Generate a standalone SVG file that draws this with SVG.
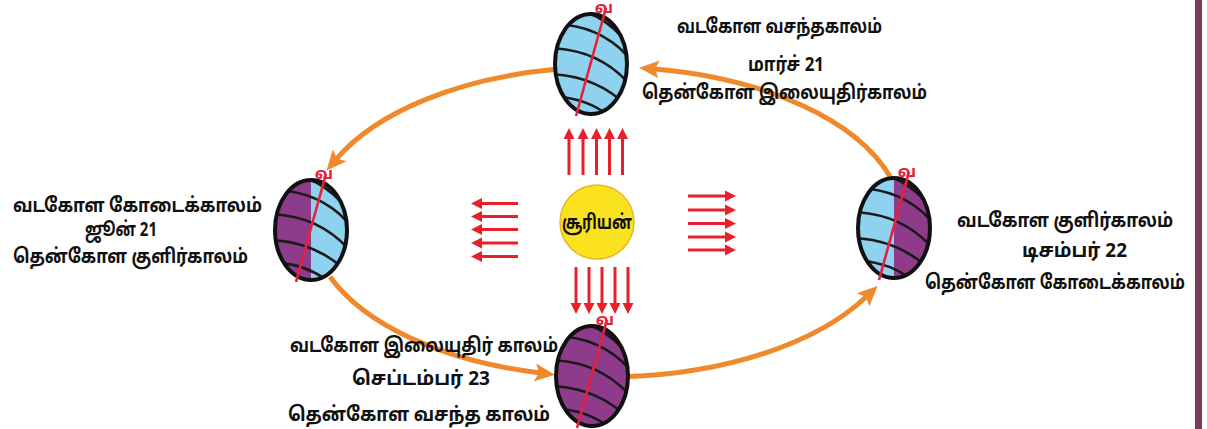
<svg xmlns="http://www.w3.org/2000/svg" xmlns:xlink="http://www.w3.org/1999/xlink" width="1207" height="429" viewBox="0 0 1207 429">
  <style>
    .label { font-family: "Noto Sans Tamil", "Lohit Tamil", "Noto Sans", "DejaVu Sans", sans-serif; font-weight: bold; font-size: 20px; fill: #111; text-anchor: middle; }
    .north { font-family: "Noto Sans Tamil", "Lohit Tamil", "Noto Sans", sans-serif; font-weight: bold; font-size: 16px; fill: #e8203a; text-anchor: middle; }
    .orbit { fill: none; stroke: #f0892b; stroke-width: 5; marker-end: url(#orangeHead); }
    .ray { stroke: #e8202a; stroke-width: 3; marker-end: url(#redHead); }
    .shell { fill: none; stroke: #111; stroke-width: 4; }
    .stripe { fill: none; stroke: #1a1a1a; stroke-width: 2.6; }
    .axis { stroke: #e8203a; stroke-width: 2.6; }
    .blue { fill: #8fd2f0; }
    .purple { fill: #8e3b8c; }
  </style>
  <defs>
    <marker id="orangeHead" markerUnits="userSpaceOnUse" markerWidth="24" markerHeight="22" viewBox="0 -11 24 22" refX="4" refY="0" orient="auto">
      <path d="M0,-9 L20,0 L0,9 L4,0 z" fill="#f0892b"/>
    </marker>
    <marker id="redHead" markerUnits="userSpaceOnUse" markerWidth="14" markerHeight="14" viewBox="0 -7 14 14" refX="1" refY="0" orient="auto">
      <path d="M0,-5.5 L11,0 L0,5.5 z" fill="#e8202a"/>
    </marker>
    <clipPath id="globeClip">
      <ellipse cx="0" cy="0" rx="36" ry="50"/>
    </clipPath>
    <clipPath id="leftHalf">
      <rect x="-40" y="-55" width="40" height="110"/>
    </clipPath>
    <clipPath id="rightHalf">
      <rect x="0" y="-55" width="40" height="110"/>
    </clipPath>
    <!-- latitude lines in globe-local coordinates -->
    <g id="stripes" clip-path="url(#globeClip)">
      <path class="stripe" d="M -6 -52 Q 14 -46 32 -26"/>
      <path class="stripe" d="M -40 -40 Q 10 -40 40 -4"/>
      <path class="stripe" d="M -40 -16 Q 10 -14 40 22"/>
      <path class="stripe" d="M -40 10 Q 8 12 40 46"/>
      <path class="stripe" d="M -40 32 Q 0 34 22 56"/>
    </g>
    <g id="axisMark">
      <line class="axis" x1="-15" y1="52" x2="15" y2="-56"/>
      <text class="north" x="13" y="-51">வ</text>
    </g>
  </defs>

  <!-- page edge bar -->
  <rect x="1195" y="0" width="7" height="429" fill="#7a3c5c"/>

  <!-- orbit arrows -->
  <g id="orbit-connectors">
    <path class="orbit" d="M 556 69.3 A 296 155 0 0 0 337 158.4"/>
    <path class="orbit" d="M 330 276.7 A 296 155 0 0 0 539 372.8"/>
    <path class="orbit" d="M 625 376.7 A 296 155 0 0 0 866 297"/>
    <path class="orbit" d="M 890 176.6 A 296 155 0 0 0 655 69"/>
  </g>

  <!-- sun rays -->
  <g id="sun-rays">
    <line class="ray" x1="569" y1="175" x2="569" y2="138"/>
    <line class="ray" x1="583" y1="175" x2="583" y2="138"/>
    <line class="ray" x1="596.5" y1="175" x2="596.5" y2="138"/>
    <line class="ray" x1="609.5" y1="175" x2="609.5" y2="138"/>
    <line class="ray" x1="622.5" y1="175" x2="622.5" y2="138"/>

    <line class="ray" x1="576" y1="267" x2="576" y2="304"/>
    <line class="ray" x1="589" y1="267" x2="589" y2="304"/>
    <line class="ray" x1="602" y1="267" x2="602" y2="304"/>
    <line class="ray" x1="615" y1="267" x2="615" y2="304"/>
    <line class="ray" x1="628" y1="267" x2="628" y2="304"/>

    <line class="ray" x1="518" y1="203.5" x2="481" y2="203.5"/>
    <line class="ray" x1="518" y1="216.5" x2="481" y2="216.5"/>
    <line class="ray" x1="518" y1="229.5" x2="481" y2="229.5"/>
    <line class="ray" x1="518" y1="243" x2="481" y2="243"/>
    <line class="ray" x1="518" y1="256.5" x2="481" y2="256.5"/>

    <line class="ray" x1="688" y1="196" x2="726" y2="196"/>
    <line class="ray" x1="688" y1="210" x2="726" y2="210"/>
    <line class="ray" x1="688" y1="223.5" x2="726" y2="223.5"/>
    <line class="ray" x1="688" y1="237" x2="726" y2="237"/>
    <line class="ray" x1="688" y1="250" x2="726" y2="250"/>
  </g>

  <!-- sun -->
  <g id="sun">
    <circle cx="597" cy="222" r="37" fill="#fbe21f" stroke="#e9b52a" stroke-width="1.5"/>
    <text class="label" x="597" y="229" textLength="70" lengthAdjust="spacingAndGlyphs">சூரியன்</text>
  </g>

  <!-- globe: March equinox (top) -->
  <g id="globe-march" transform="translate(591,64)">
    <ellipse class="blue" cx="0" cy="0" rx="36" ry="50"/>
    <use xlink:href="#stripes"/>
    <ellipse class="shell" cx="0" cy="0" rx="36" ry="50"/>
    <use xlink:href="#axisMark"/>
  </g>

  <!-- globe: June solstice (left) -->
  <g id="globe-june" transform="translate(311,230)">
    <ellipse class="blue" cx="0" cy="0" rx="36" ry="50"/>
    <ellipse class="purple" cx="0" cy="0" rx="36" ry="50" clip-path="url(#leftHalf)"/>
    <use xlink:href="#stripes"/>
    <ellipse class="shell" cx="0" cy="0" rx="36" ry="50"/>
    <use xlink:href="#axisMark"/>
  </g>

  <!-- globe: December solstice (right) -->
  <g id="globe-december" transform="translate(894,228)">
    <ellipse class="blue" cx="0" cy="0" rx="36" ry="50"/>
    <ellipse class="purple" cx="0" cy="0" rx="36" ry="50" clip-path="url(#rightHalf)"/>
    <use xlink:href="#stripes"/>
    <ellipse class="shell" cx="0" cy="0" rx="36" ry="50"/>
    <use xlink:href="#axisMark"/>
  </g>

  <!-- globe: September equinox (bottom) -->
  <g id="globe-september" transform="translate(592,376)">
    <ellipse class="purple" cx="0" cy="0" rx="36" ry="50"/>
    <use xlink:href="#stripes"/>
    <ellipse class="shell" cx="0" cy="0" rx="36" ry="50"/>
    <use xlink:href="#axisMark"/>
  </g>

  <!-- season labels -->
  <g id="label-march">
    <text class="label" x="779.5" y="33" textLength="205" lengthAdjust="spacingAndGlyphs">வடகோள வசந்தகாலம்</text>
    <text class="label" x="786" y="71" textLength="76" lengthAdjust="spacingAndGlyphs">மார்ச் 21</text>
    <text class="label" x="784.5" y="99" textLength="285" lengthAdjust="spacingAndGlyphs">தென்கோள இலையுதிர்காலம்</text>
  </g>
  <g id="label-june">
    <text class="label" x="137.5" y="212" textLength="249" lengthAdjust="spacingAndGlyphs">வடகோள கோடைக்காலம்</text>
    <text class="label" x="121" y="236" textLength="72" lengthAdjust="spacingAndGlyphs">ஜூன் 21</text>
    <text class="label" x="130.5" y="263" textLength="235" lengthAdjust="spacingAndGlyphs">தென்கோள குளிர்காலம்</text>
  </g>
  <g id="label-december">
    <text class="label" x="1065" y="227" textLength="216" lengthAdjust="spacingAndGlyphs">வடகோள குளிர்காலம்</text>
    <text class="label" x="1074.5" y="257" textLength="105" lengthAdjust="spacingAndGlyphs">டிசம்பர் 22</text>
    <text class="label" transform="translate(1055,289) scale(0.8,1)" x="0" y="0" textLength="325" lengthAdjust="spacingAndGlyphs">தென்கோள கோடைக்காலம்</text>
  </g>
  <g id="label-september">
    <text class="label" x="424" y="352" textLength="268" lengthAdjust="spacingAndGlyphs">வடகோள இலையுதிர் காலம்</text>
    <text class="label" x="421" y="385" textLength="138" lengthAdjust="spacingAndGlyphs">செப்டம்பர் 23</text>
    <text class="label" x="419" y="421" textLength="262" lengthAdjust="spacingAndGlyphs">தென்கோள வசந்த காலம்</text>
  </g>
</svg>
